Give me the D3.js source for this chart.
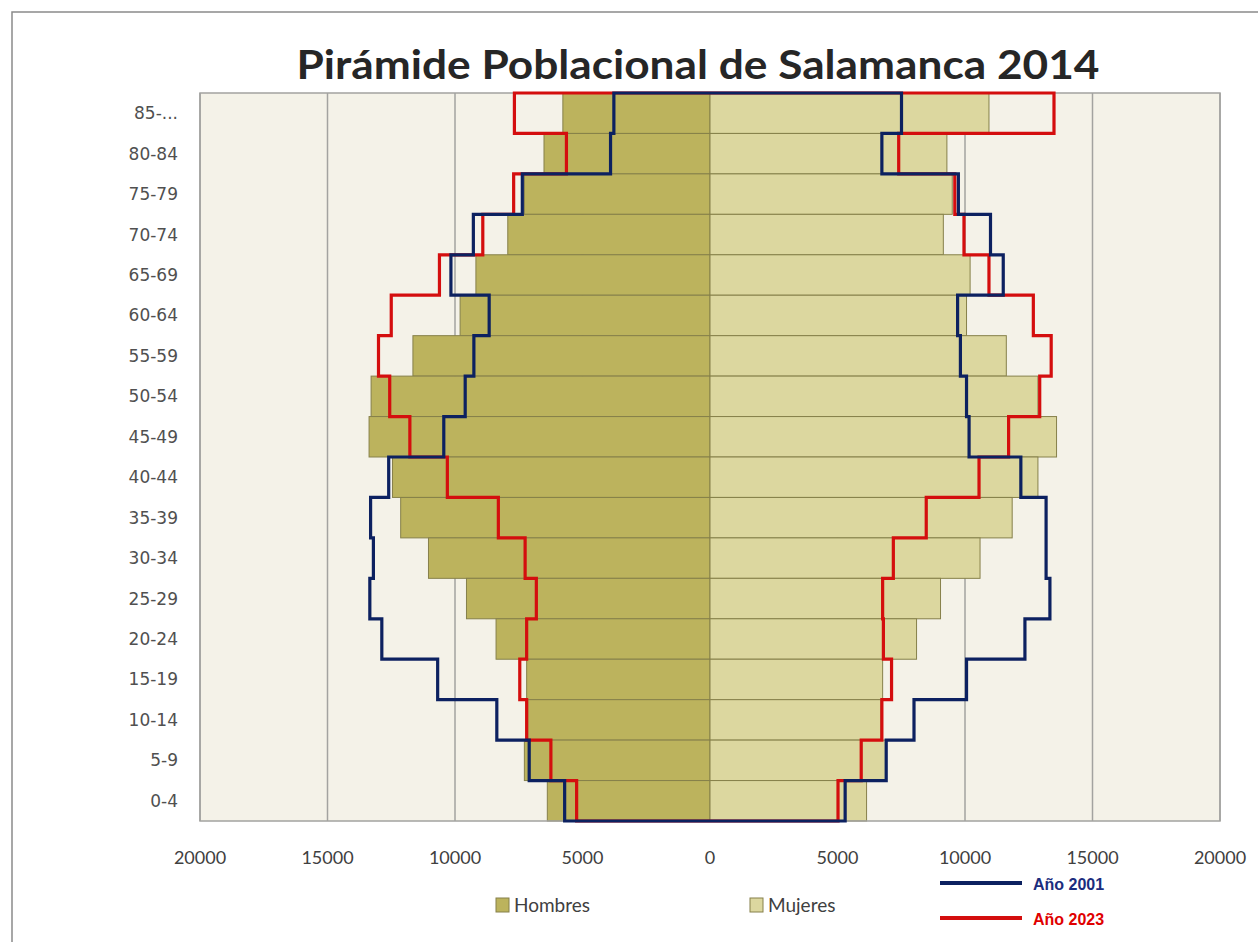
<!DOCTYPE html>
<meta charset="utf-8">
<style>
body { margin: 0; background: #fff; }
.grid line { stroke: #a3a3a0; stroke-width: 1.5px; }
.cat text { font-family: "DejaVu Sans", Verdana, sans-serif; font-size: 17px; fill: #505050; }
.xtick text { font-family: Lato, "Liberation Sans", sans-serif; font-size: 18px; fill: #404040; }
</style>
<svg width="1258" height="942"></svg>
<script src="https://d3js.org/d3.v7.min.js"></script>
<script>
// age groups, top to bottom
var grupos = ["85-...", "80-84", "75-79", "70-74", "65-69", "60-64", "55-59", "50-54", "45-49",
              "40-44", "35-39", "30-34", "25-29", "20-24", "15-19", "10-14", "5-9", "0-4"];

// 2014 bars
var hombres2014 = [5770, 6510, 7280, 7930, 9180, 9800, 11650, 13290, 13370, 12450, 12130, 11040, 9550, 8390, 7190, 7150, 7280, 6380];
var mujeres2014 = [10940, 9290, 9500, 9150, 10200, 10060, 11620, 12860, 13590, 12860, 11850, 10590, 9040, 8100, 6770, 6700, 6910, 6140];

// outlines
var hombres2001 = [3770, 3900, 7360, 9280, 10160, 8660, 9260, 9600, 10440, 12600, 13310, 13200, 13340, 12870, 10680, 8360, 7090, 5700];
var mujeres2001 = [7510, 6740, 9740, 11000, 11500, 9710, 9820, 10060, 10160, 12190, 13180, 13180, 13330, 12350, 10060, 8000, 6910, 5300];
var hombres2023 = [7670, 5630, 7700, 8910, 10610, 12500, 13000, 12560, 11770, 10300, 8300, 7250, 6810, 7190, 7460, 7190, 6240, 5230];
var mujeres2023 = [13490, 7400, 9600, 9960, 10940, 12680, 13380, 12930, 11710, 10550, 8480, 7190, 6770, 6800, 7120, 6740, 5930, 5020];

var xTicks = [-20000, -15000, -10000, -5000, 0, 5000, 10000, 15000, 20000];

var svg = d3.select("svg");

var x = d3.scaleLinear().domain([-20000, 20000]).range([200, 1220]);
var y = d3.scaleBand().domain(grupos).range([93, 821]).padding(0);

// outer frame
svg.append("rect").attr("x", 12).attr("y", 12).attr("width", 1300).attr("height", 1000)
   .attr("fill", "none").attr("stroke", "#8a8a8a").attr("stroke-width", 1.5);

// title
svg.append("text")
   .attr("x", 698).attr("y", 79)
   .attr("text-anchor", "middle")
   .attr("textLength", 803).attr("lengthAdjust", "spacingAndGlyphs")
   .style("font-family", "Lato, 'Liberation Sans', sans-serif")
   .style("font-weight", "bold").style("font-size", "41px").style("fill", "#262626")
   .text("Pirámide Poblacional de Salamanca 2014");

// plot background
svg.append("rect")
   .attr("x", x(-20000)).attr("y", y.range()[0])
   .attr("width", x(20000) - x(-20000)).attr("height", y.range()[1] - y.range()[0])
   .attr("fill", "#f4f2e8");

// vertical gridlines
svg.append("g").attr("class", "grid")
  .selectAll("line").data(xTicks).enter().append("line")
   .attr("x1", function(d) { return x(d); }).attr("x2", function(d) { return x(d); })
   .attr("y1", y.range()[0]).attr("y2", y.range()[1]);

// bars
var bars = svg.append("g");
bars.selectAll("rect.h").data(hombres2014).enter().append("rect")
   .attr("class", "h")
   .attr("x", function(d) { return x(-d); })
   .attr("y", function(d, i) { return y(grupos[i]); })
   .attr("width", function(d) { return x(0) - x(-d); })
   .attr("height", y.bandwidth())
   .attr("fill", "#bcb35d").attr("stroke", "#86804a").attr("stroke-width", 1);
bars.selectAll("rect.m").data(mujeres2014).enter().append("rect")
   .attr("class", "m")
   .attr("x", x(0))
   .attr("y", function(d, i) { return y(grupos[i]); })
   .attr("width", function(d) { return x(d) - x(0); })
   .attr("height", y.bandwidth())
   .attr("fill", "#dcd79f").attr("stroke", "#86804a").attr("stroke-width", 1);

// plot border
svg.append("rect")
   .attr("x", x(-20000)).attr("y", y.range()[0])
   .attr("width", x(20000) - x(-20000)).attr("height", y.range()[1] - y.range()[0])
   .attr("fill", "none").attr("stroke", "#a3a3a0").attr("stroke-width", 1.5);

// step outline: down the men's side, back up the women's side
function outline(hom, muj) {
  var top = y.range()[0], bot = y.range()[1];
  var pts = [[x(0), top]];
  hom.forEach(function(v, i) {
    pts.push([x(-v), y(grupos[i])]);
    pts.push([x(-v), y(grupos[i]) + y.bandwidth()]);
  });
  pts.push([x(0), bot]);
  for (var i = muj.length - 1; i >= 0; i--) {
    pts.push([x(muj[i]), y(grupos[i]) + y.bandwidth()]);
    pts.push([x(muj[i]), y(grupos[i])]);
  }
  pts.push([x(0), top]);
  return d3.line()(pts);
}

svg.append("path").attr("d", outline(hombres2023, mujeres2023))
   .attr("fill", "none").attr("stroke", "#d40e0e").attr("stroke-width", 3.2)
   .attr("stroke-linejoin", "miter");
svg.append("path").attr("d", outline(hombres2001, mujeres2001))
   .attr("fill", "none").attr("stroke", "#0c2160").attr("stroke-width", 3.2)
   .attr("stroke-linejoin", "miter");

// category labels
svg.append("g").attr("class", "cat")
  .selectAll("text").data(grupos).enter().append("text")
   .attr("x", 178)
   .attr("y", function(d) { return y(d) + y.bandwidth() / 2; })
   .attr("dy", "0.35em")
   .attr("text-anchor", "end")
   .text(function(d) { return d; });

// x tick labels
svg.append("g").attr("class", "xtick")
  .selectAll("text").data(xTicks).enter().append("text")
   .attr("x", function(d) { return x(d); })
   .attr("y", 858).attr("dy", "0.35em")
   .attr("text-anchor", "middle")
   .text(function(d) { return Math.abs(d); });

// legend: bars
var legBars = [{label: "Hombres", color: "#bcb35d", x: 496}, {label: "Mujeres", color: "#dcd79f", x: 750}];
var lb = svg.append("g").selectAll("g").data(legBars).enter().append("g");
lb.append("rect")
   .attr("x", function(d) { return d.x; }).attr("y", 898)
   .attr("width", 13).attr("height", 14)
   .attr("fill", function(d) { return d.color; }).attr("stroke", "#86804a");
lb.append("text")
   .attr("x", function(d) { return d.x + 18; }).attr("y", 905).attr("dy", "0.35em")
   .style("font-family", "Lato, 'Liberation Sans', sans-serif").style("font-size", "19px")
   .style("fill", "#404040")
   .text(function(d) { return d.label; });

// legend: lines
var legLines = [{label: "Año 2001", color: "#0c2160", text: "#1b2d7e", y: 883},
                {label: "Año 2023", color: "#d40e0e", text: "#e00000", y: 918}];
var ll = svg.append("g").selectAll("g").data(legLines).enter().append("g");
ll.append("line")
   .attr("x1", 940).attr("x2", 1022)
   .attr("y1", function(d) { return d.y; }).attr("y2", function(d) { return d.y; })
   .attr("stroke", function(d) { return d.color; }).attr("stroke-width", 4);
ll.append("text")
   .attr("x", 1033).attr("y", function(d) { return d.y + 1; }).attr("dy", "0.35em")
   .style("font-family", "'Liberation Sans', Arial, sans-serif").style("font-weight", "bold")
   .style("font-size", "16px")
   .style("fill", function(d) { return d.text; })
   .text(function(d) { return d.label; });
</script>
